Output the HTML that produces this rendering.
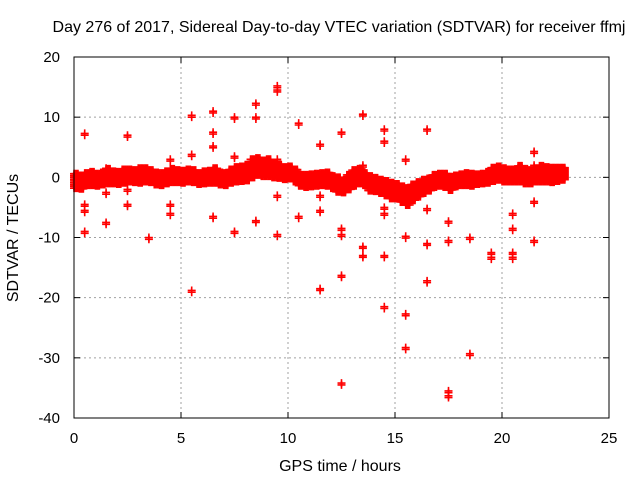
<!DOCTYPE html>
<html><head><meta charset="utf-8"><style>
body{margin:0;background:#fff}
svg{display:block;font-family:"Liberation Sans",sans-serif}
</style></head><body>
<svg id="chart" width="640" height="480">
<text x="339" y="32" font-size="16" text-anchor="middle">Day 276 of 2017, Sidereal Day-to-day VTEC variation (SDTVAR) for receiver ffmj</text>
<text x="340" y="471" font-size="16" text-anchor="middle">GPS time / hours</text>
<text transform="translate(18,238) rotate(-90)" font-size="16" text-anchor="middle">SDTVAR / TECUs</text>
<g id="grid"></g><g id="ticks"></g><g id="marks"></g>
<rect x="74" y="57" width="535" height="361" fill="none" stroke="#000" stroke-width="1"/>
</svg>
<script>
const xTicks=[0,5,10,15,20,25];
const yTicks=[20,10,0,-10,-20,-30,-40];
const bandStart=0, bandStep=0.25;
const bandCenter=[-0.6,-0.8,-0.3,-0.2,-0.4,-0.2,0.2,0,-0.1,0.2,0.3,0.2,0.3,0.4,0.2,-0.2,-0.3,0,0.3,0.2,0.1,0.3,0.2,-0.2,0,0.1,0.3,-0.2,-0.3,0.2,0.5,0.6,0.8,1.5,1.8,1.5,1.6,1.2,1.0,0.7,0.8,0.3,-0.5,-0.6,-0.5,-0.4,-0.3,-0.3,-0.8,-1.2,-1.5,-0.8,-0.1,0.2,-0.3,-1.0,-1.2,-1.5,-1.8,-2.2,-2.3,-2.8,-3.2,-2.5,-2.0,-1.5,-1.2,-0.6,-0.4,-0.5,-1.0,-0.6,-0.4,-0.3,-0.4,-0.3,-0.2,0,0.5,0.7,0.4,0.3,0.3,0.6,0.2,0.1,0.4,0.6,0.5,0.4,0.5,0.6];
const bandSpread=[1.2,1.1,1.0,1.1,1.0,1.0,1.2,1.0,1.0,1.1,1.0,1.0,1.2,1.1,1.0,1.0,1.0,1.0,1.1,1.0,1.0,1.0,1.0,0.9,1.0,1.0,1.2,1.0,1.0,1.1,1.2,1.2,1.3,1.5,1.4,1.3,1.4,1.2,1.1,1.0,1.0,1.0,0.9,1.0,1.0,1.0,1.0,1.1,1.0,1.2,1.0,1.2,1.3,1.2,1.0,1.2,1.1,1.1,1.2,1.3,1.2,1.3,1.4,1.3,1.2,1.1,1.0,1.0,1.0,1.1,1.1,0.9,0.9,1.0,1.0,0.8,0.8,0.9,1.1,1.1,1.1,1.0,1.0,1.3,1.2,1.1,1.1,1.3,1.2,1.2,1.1,1.0];
const outT=[0.5,0.5,0.5,0.5,1.5,1.5,1.5,2.5,2.5,2.5,3.5,4.5,4.5,4.5,5.5,5.5,5.5,6.5,6.5,6.5,6.5,7.5,7.5,7.5,8.5,8.5,8.5,9.5,9.5,9.5,9.5,9.5,10.5,10.5,11.5,11.5,11.5,11.5,12.5,12.5,12.5,12.5,12.5,13.5,13.5,13.5,13.5,14.5,14.5,14.5,14.5,14.5,14.5,15.5,15.5,15.5,15.5,16.5,16.5,16.5,16.5,17.5,17.5,17.5,17.5,18.5,18.5,19.5,19.5,20.5,20.5,20.5,20.5,21.5,21.5,21.5,21.5];
const outV=[7.3,-4.5,-5.5,-9,-2.5,-7.5,1.5,7,-4.5,-2,-10,3,-4.5,-6,10.3,3.8,-18.8,11,7.5,5.2,-6.5,10,-9,3.5,12.3,10,-7.2,15.2,14.5,3,-9.5,-3,9,-6.5,5.5,-5.5,-18.5,-3,7.5,-8.5,-9.5,-16.3,-34.2,10.5,2,-11.5,-13,8,6,-5,-6,-13,-21.5,3,-9.8,-22.7,-28.3,8,-5.2,-11,-17.2,-7.3,-10.5,-35.5,-36.3,-10,-29.3,-12.5,-13.3,-6,-8.5,-12.5,-13.3,4.3,-4,-10.5,2];
const X0=74,X1=609,Y0=57,Y1=418;
const xs=t=>X0+(t-0)/25*(X1-X0);
const ys=v=>Y0+(20-v)/60*(Y1-Y0);
const NS='http://www.w3.org/2000/svg';
const grid=document.getElementById('grid'),ticks=document.getElementById('ticks'),marks=document.getElementById('marks');
function mk(tag,attrs,parent){const e=document.createElementNS(NS,tag);for(const k in attrs)e.setAttribute(k,attrs[k]);parent.appendChild(e);return e;}
xTicks.forEach(t=>{const x=xs(t);
 if(t>0&&t<25){const g=mk('line',{x1:x,x2:x,y1:Y0,y2:Y1,stroke:'#a0a0a0','stroke-dasharray':'2,3'},grid);
 
 }
 mk('line',{x1:x,x2:x,y1:Y1,y2:Y1-6,stroke:'#000'},ticks);mk('line',{x1:x,x2:x,y1:Y0,y2:Y0+6,stroke:'#000'},ticks);
 const l=mk('text',{x:x,y:443,'font-size':15,'text-anchor':'middle'},ticks);l.textContent=t;
 
 });
yTicks.forEach(v=>{const y=ys(v);
 if(v<20&&v>-40){const g=mk('line',{x1:X0,x2:X1,y1:y,y2:y,stroke:'#a0a0a0','stroke-dasharray':'2,3'},grid);
 
 }
 mk('line',{x1:X0,x2:X0+6,y1:y,y2:y,stroke:'#000'},ticks);mk('line',{x1:X1,x2:X1-6,y1:y,y2:y,stroke:'#000'},ticks);
 const l=mk('text',{x:60,y:y+5,'font-size':15,'text-anchor':'end'},ticks);l.textContent=v;
 
 });
function plus(t,v,name){const x=xs(t),y=ys(v);
 const p=mk('path',{d:`M${x-4},${y}h8M${x},${y-4}v8`,stroke:'#f00','stroke-width':1.6},marks);
 
 }
const fracs=[-1,-0.75,-0.5,-0.25,0,0.25,0.5,0.75,1];
bandCenter.forEach((c,i)=>{const t=bandStart+i*bandStep;const s=bandSpread[i];
 fracs.forEach(f=>{for(let k=0;k<4;k++){plus(t+k*bandStep/4,c+f*s,'band-point');}});});
outT.forEach((t,i)=>{plus(t,outV[i],'outlier-point');plus(t,outV[i]-0.3,'outlier-point');});
</script>
</body></html>
